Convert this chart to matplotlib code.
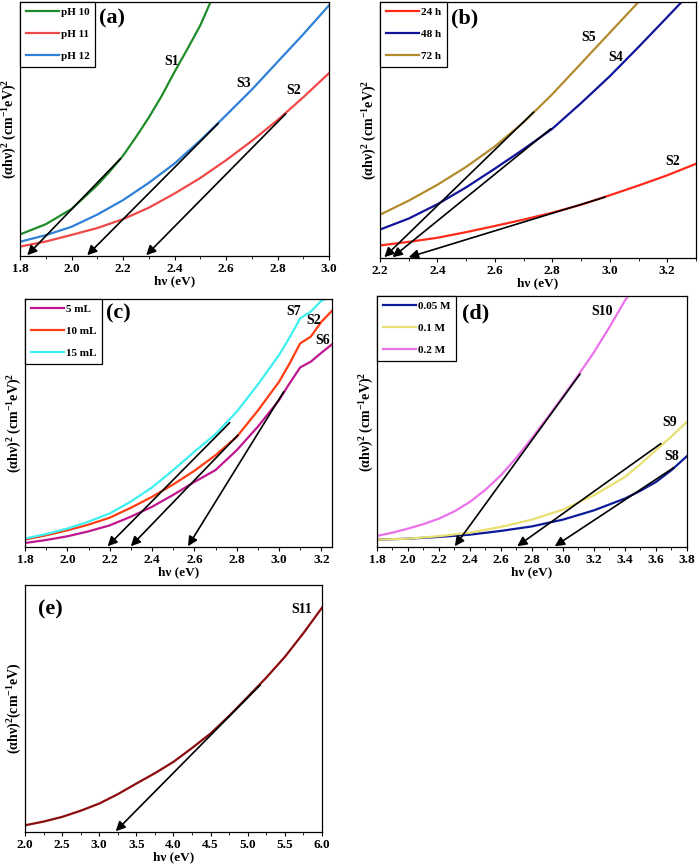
import matplotlib
matplotlib.use("Agg")
import matplotlib.pyplot as plt
from matplotlib.ticker import AutoMinorLocator

plt.rcParams["font.family"] = ["Liberation Serif", "DejaVu Serif"]
plt.rcParams["font.weight"] = "bold"
plt.rcParams["mathtext.fontset"] = "custom"
plt.rcParams["mathtext.rm"] = "Liberation Serif:bold"
plt.rcParams["mathtext.it"] = "Liberation Serif:bold"
plt.rcParams["mathtext.bf"] = "Liberation Serif:bold"

# ---- (a) pH series ----
a_x_s1 = [1.8, 1.9, 2.0, 2.1, 2.15, 2.2, 2.25, 2.3, 2.35, 2.4, 2.45, 2.5, 2.54]
a_y_s1 = [8.5, 12.5, 18.5, 27.9, 33.5, 39.5, 46.8, 54.5, 63.0, 72.5, 81.5, 90.8, 100.0]
a_x = [1.8, 1.9, 2.0, 2.1, 2.2, 2.3, 2.4, 2.5, 2.6, 2.7, 2.8, 2.9, 3.0]
a_y_s2 = [3.7, 5.7, 8.3, 11.0, 14.5, 19.0, 24.6, 30.7, 37.7, 45.3, 53.5, 62.5, 72.0]
a_y_s3 = [5.6, 8.2, 11.5, 16.3, 22.0, 28.8, 36.4, 45.5, 55.4, 65.5, 76.4, 87.3, 98.7]
a_tangents = [(2.19, 38.3, 1.828), (2.57, 52.2, 2.061), (2.832, 56.0, 2.29)]

# ---- (b) time series ----
b_x = [2.2, 2.3, 2.4, 2.5, 2.6, 2.7, 2.8, 2.9, 3.0, 3.1, 3.2, 3.3]
b_y_s2 = [4.9, 6.3, 7.9, 10.1, 12.5, 15.0, 17.7, 20.8, 24.5, 28.3, 32.3, 36.8]
b_x_s4 = [2.2, 2.3, 2.4, 2.5, 2.6, 2.7, 2.8, 2.9, 3.0, 3.1, 3.2, 3.25]
b_y_s4 = [11.1, 15.4, 21.0, 27.6, 34.9, 42.5, 50.5, 60.5, 71.0, 82.4, 94.1, 100.0]
b_x_s5 = [2.2, 2.3, 2.4, 2.5, 2.6, 2.7, 2.8, 2.9, 3.0, 3.1]
b_y_s5 = [16.9, 22.4, 28.6, 35.6, 43.6, 53.0, 64.0, 76.0, 88.0, 100.0]
b_tangents = [(2.735, 57.0, 2.215), (2.795, 50.5, 2.244), (2.984, 23.8, 2.30)]

# ---- (c) volume series ----
c_x = [1.8, 1.9, 2.0, 2.1, 2.2, 2.3, 2.4, 2.5, 2.6, 2.7, 2.8, 2.9, 3.0, 3.05, 3.1, 3.15, 3.2, 3.25]
c_y_s6 = [1.6, 2.8, 4.3, 6.3, 8.7, 12.2, 16.2, 21.0, 26.2, 31.0, 39.0, 48.5, 59.2, 66.0, 72.4, 74.7, 78.3, 81.7]
c_y_s2 = [3.0, 4.7, 6.7, 9.0, 11.8, 15.8, 20.2, 25.2, 30.7, 37.0, 44.4, 55.0, 66.6, 74.0, 82.1, 84.8, 90.8, 95.2]
c_x_s7 = [1.8, 1.9, 2.0, 2.1, 2.2, 2.3, 2.4, 2.5, 2.6, 2.7, 2.8, 2.9, 3.0, 3.05, 3.1, 3.15, 3.2, 3.22]
c_y_s7 = [3.4, 5.2, 7.4, 10.2, 13.5, 18.3, 24.0, 31.0, 38.4, 45.5, 54.5, 65.5, 77.4, 84.5, 92.2, 94.9, 99.3, 100.0]
c_tangents = [(2.767, 50.1, 2.19), (2.806, 45.1, 2.30), (3.022, 62.6, 2.57)]

# ---- (d) concentration series ----
d_x = [1.8, 2.0, 2.2, 2.4, 2.6, 2.8, 3.0, 3.2, 3.4, 3.5, 3.6, 3.7, 3.8]
d_y_s8 = [2.9, 3.3, 4.0, 4.9, 6.4, 8.2, 10.9, 14.6, 19.3, 22.4, 25.9, 30.6, 36.2]
d_y_s9 = [2.9, 3.3, 4.3, 5.7, 8.0, 10.9, 14.9, 20.6, 27.9, 33.0, 38.6, 44.0, 49.9]
d_x_s10 = [1.8, 1.9, 2.0, 2.1, 2.2, 2.3, 2.4, 2.5, 2.6, 2.7, 2.8, 2.9, 3.0, 3.1, 3.2, 3.3, 3.4, 3.42]
d_y_s10 = [4.4, 5.7, 7.3, 9.1, 11.3, 14.2, 18.0, 22.8, 28.6, 35.6, 43.4, 51.6, 60.0, 68.6, 77.6, 87.6, 98.2, 100.0]
d_tangents = [(3.11, 68.9, 2.302), (3.632, 41.2, 2.705), (3.714, 31.6, 2.947)]

# ---- (e) single sample ----
e_x = [2.0, 2.25, 2.5, 2.75, 3.0, 3.25, 3.5, 3.75, 4.0, 4.25, 4.5, 4.75, 5.0, 5.25, 5.5, 5.75, 6.0]
e_y_s11 = [2.7, 4.2, 6.1, 8.6, 11.5, 15.3, 19.6, 23.8, 28.4, 34.0, 39.9, 47.0, 54.7, 62.5, 70.9, 80.5, 90.8]
e_tangents = [(5.169, 59.5, 3.222)]

YLAB = "(αhν)$^2$ (cm$^{-1}$eV)$^2$"

fig = plt.figure(figsize=(6.98, 8.66), dpi=100)


def make_panel(rect, xlim, xticks, tag, tag_xy, series, legend, tangents, labels, ylabel=YLAB):
    ax = fig.add_axes(rect)
    lines = []
    for xs, ys, col in series:
        ln, = ax.plot(xs, ys, color=col, lw=1.6)
        lines.append(ln)
    for x0, y0, x1 in tangents:
        ax.annotate("", xy=(x1, 0.3), xytext=(x0, y0),
                    arrowprops=dict(arrowstyle="-|>", color="black", lw=1.2,
                                    mutation_scale=14, shrinkA=0, shrinkB=0))
    for txt, x, y in labels:
        ax.text(x, y, txt, fontsize=10, fontweight="bold", ha="center", va="center")
    ax.text(tag_xy[0], tag_xy[1], tag, fontsize=16, fontweight="bold", ha="center", va="center")
    ax.set_xlim(*xlim)
    ax.set_ylim(0, 100)
    ax.set_xticks(xticks)
    ax.set_xticklabels([f"{t:.1f}" for t in xticks])
    ax.xaxis.set_minor_locator(AutoMinorLocator(2))
    ax.set_yticks([])
    ax.tick_params(axis="x", which="major", direction="out", length=3, width=0.8, labelsize=9.5, pad=2)
    ax.tick_params(axis="x", which="minor", direction="out", length=2, width=0.6)
    for lbl in ax.get_xticklabels():
        lbl.set_fontweight("bold")
    ax.set_xlabel("hν (eV)", fontsize=9.5, fontweight="bold", labelpad=0)
    ax.set_ylabel(ylabel, fontsize=10, fontweight="bold", labelpad=1)
    for sp in ax.spines.values():
        sp.set_linewidth(0.9)
    if legend:
        leg = ax.legend(lines, legend, loc="upper left", bbox_to_anchor=(0, 1),
                        borderaxespad=0, fancybox=False, framealpha=1,
                        edgecolor="black", handlelength=3.0,
                        handletextpad=0.2, labelspacing=1.1, borderpad=0.5,
                        prop={"weight": "bold", "size": 8})
        leg.get_frame().set_linewidth(0.9)
    return ax


make_panel([0.0287, 0.7044, 0.4427, 0.2933], (1.8, 3.0), [1.8, 2.0, 2.2, 2.4, 2.6, 2.8, 3.0],
           "(a)", (2.156, 93.4),
           [(a_x_s1, a_y_s1, "#1f8c2a"), (a_x, a_y_s2, "#f04848"), (a_x, a_y_s3, "#2f80d8")],
           ["pH 10", "pH 11", "pH 12"], a_tangents,
           [("S1", 2.389, 76.4), ("S3", 2.667, 67.9), ("S2", 2.861, 65.3)])

make_panel([0.5444, 0.7021, 0.4527, 0.2956], (2.2, 3.3), [2.2, 2.4, 2.6, 2.8, 3.0, 3.2],
           "(b)", (2.494, 93.5),
           [(b_x, b_y_s2, "#ff2a1a"), (b_x_s4, b_y_s4, "#12129a"), (b_x_s5, b_y_s5, "#b38a2e")],
           ["24 h", "48 h", "72 h"], b_tangents,
           [("S5", 2.926, 86.3), ("S4", 3.019, 78.5), ("S2", 3.219, 37.5)])

make_panel([0.0358, 0.3684, 0.4398, 0.2864], (1.8, 3.25), [1.8, 2.0, 2.2, 2.4, 2.6, 2.8, 3.0, 3.2],
           "(c)", (2.24, 94.0),
           [(c_x, c_y_s6, "#c0168e"), (c_x, c_y_s2, "#ff3c14"), (c_x_s7, c_y_s7, "#3ef0f0")],
           ["5 mL", "10 mL", "15 mL"], c_tangents,
           [("S7", 3.07, 94.9), ("S2", 3.164, 91.5), ("S6", 3.208, 83.4)])

make_panel([0.5401, 0.3684, 0.4441, 0.2898], (1.8, 3.8),
           [1.8, 2.0, 2.2, 2.4, 2.6, 2.8, 3.0, 3.2, 3.4, 3.6, 3.8],
           "(d)", (2.436, 93.0),
           [(d_x, d_y_s8, "#0c1a98"), (d_x, d_y_s9, "#e8e070"), (d_x_s10, d_y_s10, "#ea72ea")],
           ["0.05 M", "0.1 M", "0.2 M"], d_tangents,
           [("S10", 3.255, 93.8), ("S9", 3.69, 49.5), ("S8", 3.703, 35.9)])

make_panel([0.0358, 0.0393, 0.4255, 0.2852], (2.0, 6.0),
           [2.0, 2.5, 3.0, 3.5, 4.0, 4.5, 5.0, 5.5, 6.0],
           "(e)", (2.337, 89.9),
           [(e_x, e_y_s11, "#8a0c0c")],
           None, e_tangents,
           [("S11", 5.73, 89.9)],
           ylabel="(αhν)$^2$(cm$^{-1}$eV)")

fig.savefig("out.png", dpi=100)
